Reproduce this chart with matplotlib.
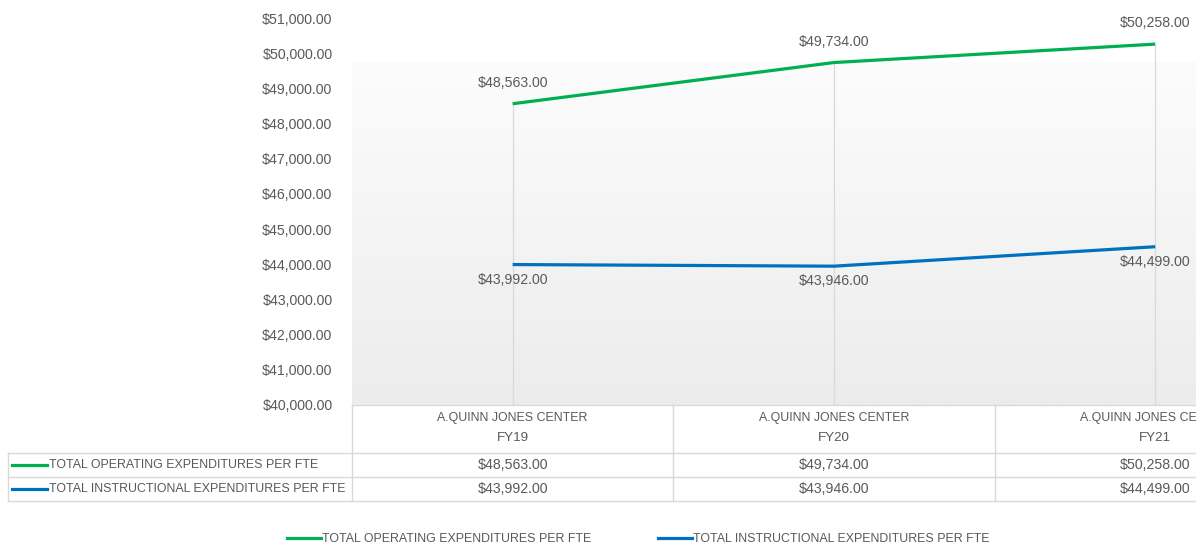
import matplotlib
matplotlib.use("Agg")
import matplotlib.pyplot as plt
import numpy as np
from matplotlib.lines import Line2D

# chart data
categories = ["FY19", "FY20", "FY21"]
center_name = "A.QUINN JONES CENTER"
series_names = ["TOTAL OPERATING EXPENDITURES PER FTE",
                "TOTAL INSTRUCTIONAL EXPENDITURES PER FTE"]
operating = [48563, 49734, 50258]
instructional = [43992, 43946, 44499]
series_values = [operating, instructional]
series_colors = ["#00b050", "#0070c0"]
yticks = list(range(40000, 51001, 1000))

W, H = 1196, 548
TXT = "#595959"
GRID = "#d9d9d9"
NUM_FS = 10.2   # numbers
CAP_FS = 8.9    # upper-case labels
plt.rcParams['font.family'] = ['Liberation Sans', 'DejaVu Sans']

fig = plt.figure(figsize=(W / 100, H / 100), dpi=100)


def fx(px):
    return px / W


def fy(py):
    return (H - py) / H


# plot area in pixels: left 352, top 18, bottom 405, category width ~321
ax = fig.add_axes([fx(352), fy(405), fx(3 * 321.3), (405 - 18) / H])
ax.set_xlim(-0.5, 2.5)
ax.set_ylim(40000, 51000)
ax.patch.set_alpha(0)
for s in ax.spines.values():
    s.set_visible(False)

# soft vertical gradient behind the plot
grad = np.linspace(0, 1, 256).reshape(-1, 1)
cmap = matplotlib.colors.LinearSegmentedColormap.from_list(
    "bg", ["#ececec", "#fcfcfc"])
ax.imshow(grad, cmap=cmap, aspect="auto", origin="lower",
          extent=[0, 1, 0, 0.886], transform=ax.transAxes, zorder=0)

x = np.arange(len(categories))

# drop lines
tops = [max(v) for v in zip(*series_values)]
ax.vlines(x, 40000, tops, color=GRID, lw=0.9, zorder=1)

offsets = [15, -11]
for vals, col, off in zip(series_values, series_colors, offsets):
    ax.plot(x, vals, color=col, lw=2.3, zorder=3, solid_capstyle="butt")
    for xi, v in zip(x, vals):
        ax.annotate("${:,.2f}".format(v), (xi, v), xytext=(0, off),
                    textcoords="offset points", ha="center", va="center",
                    fontsize=NUM_FS, color=TXT, annotation_clip=False)

ax.set_xticks([])
ax.set_yticks(yticks)
ax.set_yticklabels(["${:,.2f}".format(t) for t in yticks])
ax.tick_params(axis="y", length=0, pad=14, labelsize=NUM_FS, labelcolor=TXT)

# data table below the plot
fig.canvas.draw()
col_edges = [fx(ax.transData.transform((b, 40000))[0])
             for b in np.arange(-0.5, len(categories), 1.0)]
centers = [fx(ax.transData.transform((c, 40000))[0]) for c in x]
y_head, y_r1, y_r2, y_end = fy(405), fy(453), fy(477), fy(501)
lkw = dict(color=GRID, lw=1, transform=fig.transFigure)
fig.add_artist(Line2D([col_edges[0], 1], [y_head, y_head], **lkw))
for yy in (y_r1, y_r2, y_end):
    fig.add_artist(Line2D([fx(8), 1], [yy, yy], **lkw))
fig.add_artist(Line2D([fx(8), fx(8)], [y_r1, y_end], **lkw))
for ce in col_edges:
    fig.add_artist(Line2D([ce, ce], [y_head, y_end], **lkw))

for cx, cat in zip(centers, categories):
    fig.text(cx, fy(418), center_name, ha="center", va="center",
             fontsize=CAP_FS, color=TXT)
    fig.text(cx, fy(438), cat, ha="center", va="center",
             fontsize=NUM_FS - 0.6, color=TXT)

for ry, name, vals, col in zip((465, 489), series_names,
                                series_values, series_colors):
    fig.add_artist(Line2D([fx(12), fx(47)], [fy(ry), fy(ry)], color=col,
                          lw=2.3, transform=fig.transFigure))
    fig.text(fx(49), fy(ry), name, ha="left", va="center",
             fontsize=CAP_FS, color=TXT)
    for cx, v in zip(centers, vals):
        fig.text(cx, fy(ry), "${:,.2f}".format(v), ha="center",
                 va="center", fontsize=NUM_FS, color=TXT)

# legend at the bottom
handles = [Line2D([], [], color=c, lw=2.3) for c in series_colors]
fig.legend(handles, series_names, loc="center", ncol=2, frameon=False,
           bbox_to_anchor=(fx(638), fy(539)), fontsize=CAP_FS,
           handlelength=2.75, handletextpad=0.1, columnspacing=5.4,
           labelcolor=TXT)

fig.savefig("out.png", dpi=100, facecolor="white")
